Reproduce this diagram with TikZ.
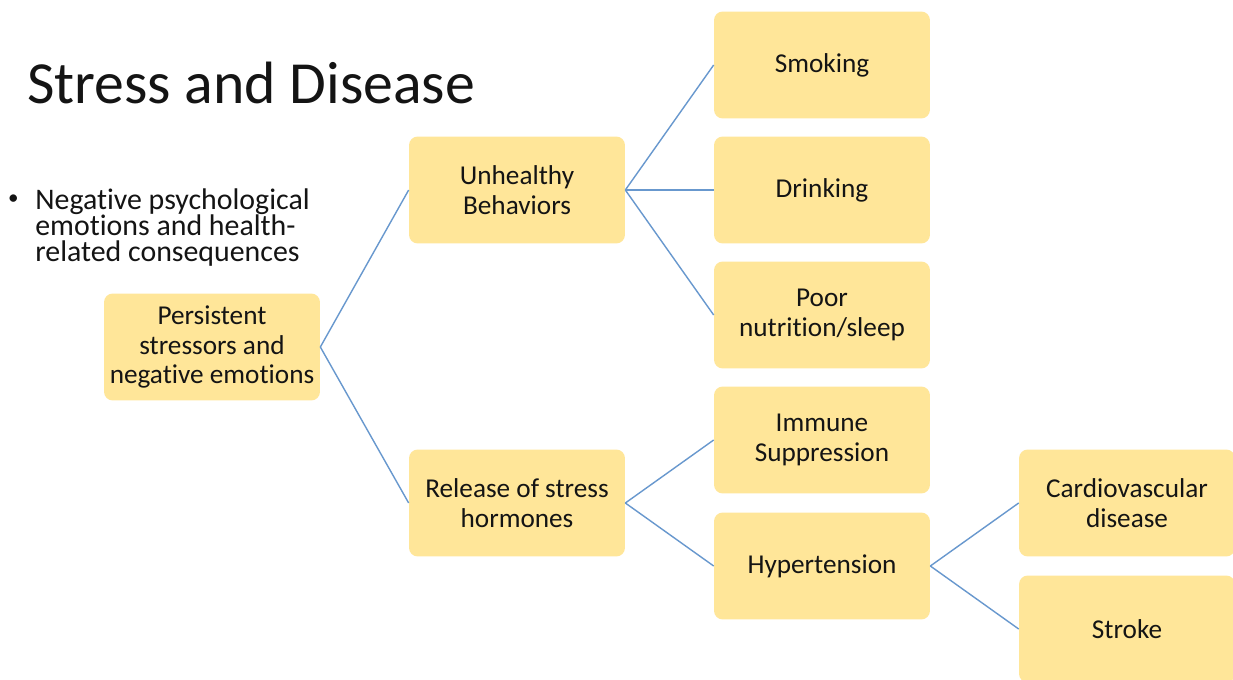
\documentclass[tikz,border=0pt]{standalone}
\usepackage{fontspec}
\setmainfont[Ligatures=NoCommon]{Carlito}
\definecolor{boxfill}{RGB}{255,230,153}
\definecolor{linkblue}{RGB}{104,152,206}
\definecolor{textdark}{RGB}{20,20,20}
\usetikzlibrary{positioning}

\begin{document}
\begin{tikzpicture}[
  x=0.02cm,y=-0.02cm,
  stage/.style={fill=boxfill,rounded corners=5pt,minimum width=4.32cm,minimum height=2.14cm,
    inner sep=2pt,font=\fontsize{15.5}{17}\selectfont,text=textdark,align=center},
  link/.style={draw=linkblue,line width=0.8pt},
  title/.style={font=\fontsize{34}{40}\selectfont,text=textdark,anchor=base west,inner sep=0pt}
]
  \useasboundingbox[fill=white] (0,0) rectangle (1233,679);

  % Heading and bullet
  \node[title] (head) at (27,104) {Stress and Disease};
  \node[font=\fontsize{17}{15}\selectfont,text=textdark,anchor=north west,align=left,inner sep=0pt]
    (bullet) at (35,188) {Negative psychological\\emotions and health-\\related consequences};
  \node[font=\fontsize{12}{12}\selectfont,text=textdark,anchor=east,inner sep=0pt] (dot) at (19,200) {•};

  % Boxes
  \node[stage] (persist) at (212,347) {Persistent\\stressors and\\negative emotions};
  \node[stage] (unhealthy) at (517,190) {Unhealthy\\Behaviors};
  \node[stage] (release) at (517,503) {Release of stress\\hormones};

  \node[stage] (smoking) at (822,65) {Smoking};
  \node[stage] (drinking) at (822,190) {Drinking};
  \node[stage] (poor) at (822,315) {Poor\\nutrition/sleep};
  \node[stage] (immune) at (822,440) {Immune\\Suppression};
  \node[stage] (hyper) at (822,566) {Hypertension};

  \node[stage] (cardio) at (1127,503) {Cardiovascular\\disease};
  \node[stage] (stroke) at (1127,629) {Stroke};

  % Connectors
  \foreach \from/\to in {persist/unhealthy, persist/release,
      unhealthy/smoking, unhealthy/drinking, unhealthy/poor,
      release/immune, release/hyper, hyper/cardio, hyper/stroke}
    \draw[link] (\from.east) -- (\to.west);
\end{tikzpicture}
\end{document}
